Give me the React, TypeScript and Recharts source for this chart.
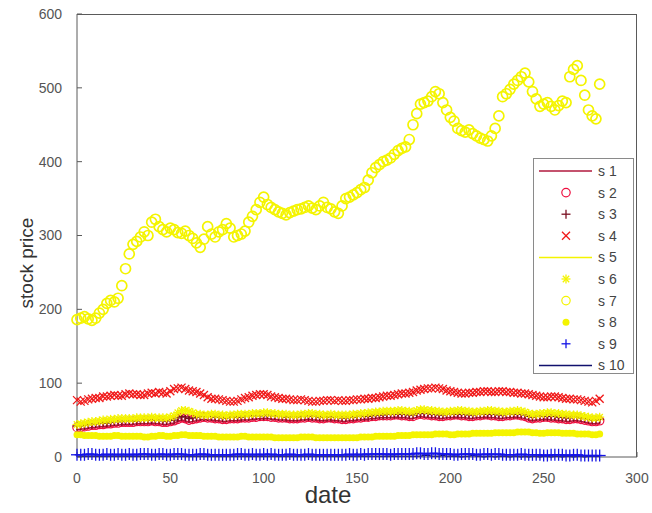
import React from 'react'
import { LineChart, Line, XAxis, YAxis, Legend, CartesianGrid } from 'recharts'

// trading days, sampled every 2nd day
const dates = [
  0, 2, 4, 6, 8, 10, 12, 14, 16, 18,
  20, 22, 24, 26, 28, 30, 32, 34, 36, 38,
  40, 42, 44, 46, 48, 50, 52, 54, 56, 58,
  60, 62, 64, 66, 68, 70, 72, 74, 76, 78,
  80, 82, 84, 86, 88, 90, 92, 94, 96, 98,
  100, 102, 104, 106, 108, 110, 112, 114, 116, 118,
  120, 122, 124, 126, 128, 130, 132, 134, 136, 138,
  140, 142, 144, 146, 148, 150, 152, 154, 156, 158,
  160, 162, 164, 166, 168, 170, 172, 174, 176, 178,
  180, 182, 184, 186, 188, 190, 192, 194, 196, 198,
  200, 202, 204, 206, 208, 210, 212, 214, 216, 218,
  220, 222, 224, 226, 228, 230, 232, 234, 236, 238,
  240, 242, 244, 246, 248, 250, 252, 254, 256, 258,
  260, 262, 264, 266, 268, 270, 272, 274, 276, 278,
  280,
]

const s1 = [
  37, 38, 38, 39, 40, 40, 41, 41, 42, 42,
  43, 43, 44, 44, 44, 44, 45, 45, 45, 45,
  46, 45, 45, 44, 44, 45, 46, 48, 50, 49,
  47, 48, 49, 50, 51, 50, 50, 49, 49, 48,
  48, 49, 49, 49, 50, 50, 50, 51, 51, 52,
  52, 52, 51, 51, 50, 50, 50, 49, 49, 49,
  50, 50, 51, 50, 50, 49, 49, 50, 50, 49,
  49, 48, 48, 49, 49, 50, 50, 51, 51, 52,
  52, 53, 53, 53, 53, 54, 54, 53, 53, 52,
  52, 54, 55, 54, 54, 53, 53, 52, 52, 53,
  53, 54, 54, 53, 53, 52, 52, 53, 53, 54,
  54, 53, 53, 52, 52, 53, 53, 54, 54, 53,
  52, 50, 49, 50, 50, 51, 51, 50, 50, 49,
  49, 48, 48, 49, 49, 48, 47, 46, 45, 45,
  46,
]
const s2 = [
  40, 40, 41, 42, 43, 43, 44, 44, 45, 45,
  46, 46, 47, 47, 47, 47, 48, 48, 48, 48,
  49, 48, 48, 47, 47, 48, 49, 51, 53, 52,
  50, 51, 52, 53, 54, 53, 53, 52, 52, 51,
  51, 52, 52, 52, 53, 53, 53, 54, 54, 55,
  55, 55, 54, 54, 53, 53, 53, 52, 52, 52,
  53, 53, 54, 53, 53, 52, 52, 53, 53, 52,
  52, 51, 51, 52, 52, 53, 53, 54, 54, 55,
  55, 56, 56, 56, 56, 57, 57, 56, 56, 55,
  55, 57, 58, 57, 57, 56, 56, 55, 55, 56,
  56, 57, 57, 56, 56, 55, 55, 56, 56, 57,
  57, 56, 56, 55, 55, 56, 56, 57, 57, 56,
  55, 53, 52, 53, 53, 54, 54, 53, 53, 52,
  52, 51, 51, 52, 52, 51, 50, 49, 48, 48,
  49,
]
const s3 = [
  42, 42, 43, 44, 44, 45, 46, 46, 46, 47,
  48, 48, 48, 49, 49, 49, 49, 50, 50, 50,
  50, 50, 50, 49, 49, 50, 50, 53, 55, 54,
  52, 53, 54, 55, 55, 55, 55, 54, 54, 53,
  53, 54, 54, 54, 54, 55, 55, 56, 56, 56,
  56, 57, 56, 56, 55, 55, 54, 54, 54, 54,
  55, 55, 55, 55, 55, 54, 54, 54, 54, 54,
  54, 53, 53, 54, 54, 55, 55, 55, 55, 56,
  57, 57, 57, 58, 58, 58, 58, 58, 58, 57,
  57, 59, 59, 59, 59, 58, 58, 57, 57, 58,
  58, 58, 58, 58, 58, 57, 57, 58, 58, 58,
  58, 58, 58, 57, 57, 58, 58, 58, 58, 58,
  57, 55, 54, 55, 55, 55, 55, 55, 55, 54,
  54, 53, 53, 54, 54, 53, 52, 51, 50, 50,
  51,
]
const s4 = [
  77, 75, 76, 78, 79, 80, 80, 82, 82, 83,
  84, 83, 83, 85, 86, 85, 85, 84, 84, 86,
  87, 86, 88, 87, 86, 89, 92, 93, 94, 92,
  90, 89, 88, 86, 84, 81, 79, 79, 78, 77,
  76, 75, 75, 76, 78, 80, 81, 83, 84, 85,
  85, 84, 82, 81, 80, 79, 79, 78, 77, 77,
  78, 77, 76, 75, 75, 76, 76, 77, 77, 76,
  77, 76, 76, 77, 77, 78, 78, 79, 79, 80,
  80, 81, 82, 83, 83, 84, 85, 86, 86, 87,
  88, 90, 91, 92, 93, 93, 94, 93, 92, 90,
  89, 88, 87, 86, 86, 87, 87, 88, 88, 89,
  89, 88, 88, 89, 89, 88, 88, 87, 87, 86,
  86, 85, 84, 83, 82, 81, 81, 82, 82, 81,
  80, 79, 79, 78, 78, 77, 76, 75, 74, 76,
  79,
]
const s5 = [
  28, 28, 27, 27, 27, 27, 26, 26, 26, 26,
  27, 27, 27, 27, 26, 26, 26, 26, 26, 26,
  27, 27, 27, 26, 26, 26, 27, 27, 28, 28,
  27, 27, 26, 26, 26, 26, 26, 26, 26, 25,
  25, 25, 25, 25, 26, 26, 26, 26, 25, 25,
  25, 25, 25, 24, 24, 24, 24, 24, 24, 24,
  25, 25, 25, 25, 25, 25, 24, 24, 24, 24,
  24, 24, 24, 24, 25, 25, 25, 25, 25, 25,
  26, 26, 26, 26, 26, 26, 27, 27, 27, 27,
  28, 28, 28, 28, 28, 28, 29, 29, 29, 29,
  28, 28, 29, 29, 29, 29, 30, 30, 30, 30,
  30, 30, 31, 31, 31, 31, 31, 31, 32, 32,
  32, 32, 31, 31, 30, 30, 31, 31, 31, 31,
  30, 30, 30, 30, 29, 29, 29, 29, 28, 28,
  29,
]
const s6 = [
  44, 45, 46, 47, 48, 48, 49, 50, 50, 51,
  51, 52, 52, 52, 52, 52, 53, 53, 53, 53,
  54, 53, 53, 53, 53, 54, 56, 60, 63, 63,
  62, 60, 58, 58, 57, 57, 58, 58, 57, 57,
  56, 57, 57, 58, 58, 58, 58, 59, 59, 59,
  60, 60, 59, 59, 58, 58, 58, 57, 57, 57,
  58, 58, 59, 59, 58, 58, 57, 57, 58, 57,
  57, 57, 57, 57, 58, 58, 59, 59, 60, 60,
  61, 61, 62, 62, 62, 62, 63, 63, 62, 62,
  61, 63, 64, 64, 63, 63, 62, 62, 61, 61,
  62, 62, 63, 63, 62, 62, 61, 61, 62, 62,
  63, 63, 62, 62, 61, 61, 62, 62, 63, 62,
  61, 59, 58, 58, 59, 59, 60, 60, 59, 59,
  58, 58, 57, 57, 57, 56, 55, 54, 53, 53,
  54,
]
const s7 = [
  186, 188, 190, 187, 185, 188, 195, 200, 208, 212,
  210, 215, 232, 255, 275, 288, 292, 298, 305, 300,
  318, 322, 312, 308, 305, 310, 308, 304, 303, 306,
  300, 296, 290, 284, 295, 312, 302, 298, 305, 308,
  316, 310, 298, 300, 302, 306, 318, 326, 335, 345,
  352, 342, 338, 335, 332, 330, 328, 331, 333, 335,
  336, 338, 340, 337, 335, 340, 345, 338, 336, 332,
  330, 340, 350, 352, 355, 358, 362, 365, 375, 385,
  392, 396, 400, 402, 405, 410, 415, 418, 420, 430,
  450, 465, 478, 480, 482, 488, 495, 492, 480, 470,
  460, 455, 445, 442, 440, 443, 438, 435, 432, 430,
  428, 435, 445, 462, 488, 492, 498, 505, 510, 515,
  520, 508, 495, 485, 475, 478, 480, 475, 470, 476,
  482, 480, 515, 525, 530, 510, 490, 470, 462, 458,
  505,
]
const s8 = [
  30, 30, 29, 29, 29, 29, 28, 28, 28, 28,
  29, 29, 28, 28, 28, 28, 28, 28, 27, 27,
  28, 28, 29, 29, 28, 28, 29, 29, 30, 30,
  29, 29, 29, 29, 28, 28, 28, 28, 27, 27,
  27, 27, 27, 27, 28, 28, 27, 27, 27, 27,
  27, 27, 27, 26, 26, 26, 26, 26, 26, 26,
  27, 27, 27, 27, 26, 26, 26, 26, 26, 26,
  26, 26, 26, 26, 26, 26, 27, 27, 27, 27,
  28, 28, 28, 28, 28, 28, 29, 29, 29, 29,
  30, 30, 30, 30, 30, 30, 31, 31, 31, 31,
  30, 30, 31, 31, 31, 31, 32, 32, 32, 32,
  32, 32, 33, 33, 33, 33, 33, 33, 34, 34,
  34, 34, 33, 33, 32, 32, 33, 33, 33, 33,
  32, 32, 32, 32, 31, 31, 31, 31, 30, 30,
  31,
]
const s9 = [
  3, 3, 3, 4, 4, 3, 3, 3, 4, 3,
  3, 4, 3, 3, 4, 3, 3, 4, 4, 4,
  3, 3, 4, 4, 3, 3, 4, 4, 4, 3,
  3, 3, 3, 4, 4, 3, 3, 3, 3, 3,
  3, 3, 3, 4, 4, 3, 3, 4, 3, 3,
  4, 3, 4, 3, 3, 3, 3, 4, 3, 3,
  3, 3, 4, 3, 3, 3, 3, 3, 3, 3,
  3, 3, 3, 4, 3, 3, 4, 3, 4, 4,
  4, 4, 4, 4, 3, 4, 4, 4, 4, 4,
  4, 5, 5, 4, 4, 5, 5, 4, 4, 4,
  4, 3, 3, 4, 4, 4, 4, 3, 3, 4,
  4, 3, 4, 4, 3, 3, 3, 3, 3, 4,
  3, 3, 3, 3, 3, 2, 2, 3, 3, 3,
  3, 2, 2, 3, 3, 2, 2, 2, 2, 2,
  2,
]
const s10 = [
  1, 1, 1, 1, 1, 1, 1, 1, 1, 1,
  1, 1, 1, 1, 1, 1, 1, 1, 1, 1,
  1, 1, 1, 1, 1, 1, 1, 1, 1, 1,
  1, 1, 1, 1, 1, 1, 1, 1, 1, 1,
  1, 1, 1, 1, 1, 1, 1, 1, 1, 1,
  1, 1, 1, 1, 1, 1, 1, 1, 1, 1,
  1, 1, 1, 1, 1, 1, 1, 1, 1, 1,
  1, 1, 1, 1, 1, 1, 1, 1, 1, 1,
  1, 1, 1, 1, 1, 1, 1, 1, 1, 1,
  1, 1, 1, 2, 2, 1, 1, 1, 2, 1,
  1, 1, 1, 0, 1, 1, 2, 1, 1, 0,
  1, 1, 0, 1, 1, 1, 0, 1, 1, 0,
  1, 0, 1, 1, 0, 1, 1, 0, 1, 1,
  0, 1, 1, 0, 1, 1, 0, 1, 1, 1,
  1,
]

const xTicks = [0, 50, 100, 150, 200, 250, 300]
const yTicks = [0, 100, 200, 300, 400, 500, 600]
const X_MAX = 300
const Y_MAX = 600

type Shape = 'line' | 'o' | '+' | 'x' | '*' | '.'

const SERIES: { key: string; label: string; color: string; shape: Shape; values: number[] }[] = [
  { key: 's1', label: 's 1', color: '#b0183c', shape: 'line', values: s1 },
  { key: 's2', label: 's 2', color: '#ee1040', shape: 'o', values: s2 },
  { key: 's3', label: 's 3', color: '#7a1022', shape: '+', values: s3 },
  { key: 's4', label: 's 4', color: '#f01818', shape: 'x', values: s4 },
  { key: 's5', label: 's 5', color: '#f4f400', shape: 'line', values: s5 },
  { key: 's6', label: 's 6', color: '#f4f400', shape: '*', values: s6 },
  { key: 's7', label: 's 7', color: '#f4f400', shape: 'o', values: s7 },
  { key: 's8', label: 's 8', color: '#f4f400', shape: '.', values: s8 },
  { key: 's9', label: 's 9', color: '#1414e6', shape: '+', values: s9 },
  { key: 's10', label: 's 10', color: '#10106e', shape: 'line', values: s10 },
]

const rows = dates.map((date, i) => {
  const row: Record<string, number> = { date }
  SERIES.forEach(s => { row[s.key] = s.values[i] })
  return row
})

const FONT = '"Liberation Sans", Arial, sans-serif'
const AXIS = '#5a5a5a'

const W = 652
const H = 513
const M = { top: 14, right: 15, bottom: 0, left: 0 }
const Y_AXIS_W = 77
const X_AXIS_H = 56

function Marker({ shape, cx, cy, color, big }: { shape: Shape; cx: number; cy: number; color: string; big?: boolean }) {
  if (cx == null || cy == null) return null
  const w = 1.3
  switch (shape) {
    case 'o':
      return <circle cx={cx} cy={cy} r={big ? 5 : 4.2} fill="none" stroke={color} strokeWidth={big ? 1.7 : 1.2} />
    case '+': {
      const h = big ? 6 : 4.5
      return (
        <g stroke={color} strokeWidth={w}>
          <line x1={cx - h} y1={cy} x2={cx + h} y2={cy} />
          <line x1={cx} y1={cy - h} x2={cx} y2={cy + h} />
        </g>
      )
    }
    case 'x': {
      const h = 4
      return (
        <g stroke={color} strokeWidth={w}>
          <line x1={cx - h} y1={cy - h} x2={cx + h} y2={cy + h} />
          <line x1={cx - h} y1={cy + h} x2={cx + h} y2={cy - h} />
        </g>
      )
    }
    case '*': {
      const h = 4.5
      const d = 3.2
      return (
        <g stroke={color} strokeWidth={w}>
          <line x1={cx - h} y1={cy} x2={cx + h} y2={cy} />
          <line x1={cx} y1={cy - h} x2={cx} y2={cy + h} />
          <line x1={cx - d} y1={cy - d} x2={cx + d} y2={cy + d} />
          <line x1={cx - d} y1={cy + d} x2={cx + d} y2={cy - d} />
        </g>
      )
    }
    case '.':
      return <circle cx={cx} cy={cy} r={3.5} fill={color} stroke="none" />
    default:
      return null
  }
}

function LegendBox() {
  const rowH = 21.6
  return (
    <svg width={101} height={216} style={{ display: 'block' }}>
      <rect x={0.5} y={0.5} width={100} height={215} fill="#fff" stroke="#8a8a8a" />
      {SERIES.map((s, i) => {
        const y = 13 + i * rowH
        return (
          <g key={s.key}>
            {s.shape === 'line'
              ? <line x1={6} x2={59} y1={y} y2={y} stroke={s.color} strokeWidth={1.5} />
              : <Marker shape={s.shape} cx={33} cy={y} color={s.color} />}
            <text x={65} y={y} dy="0.35em" fontSize={14} fill="#444" fontFamily={FONT}>{s.label}</text>
          </g>
        )
      })}
    </svg>
  )
}

export default function App() {
  const tickStyle = { fontSize: 14, fill: '#555', fontFamily: FONT }
  return (
    <div style={{ position: 'absolute', left: 0, top: 0, width: W, height: H, background: '#fff' }}>
      <LineChart width={W} height={H} data={rows} margin={M}>
        {/* MATLAB "box on": only the top and right edges of the plot area */}
        <CartesianGrid
          stroke={AXIS}
          strokeWidth={1}
          horizontalCoordinatesGenerator={({ offset }: any) => [offset.top + 0.5]}
          verticalCoordinatesGenerator={({ offset }: any) => [offset.left + offset.width - 0.5]}
        />
        <XAxis
          dataKey="date"
          type="number"
          domain={[0, X_MAX]}
          ticks={xTicks}
          height={X_AXIS_H}
          stroke={AXIS}
          tickSize={-5}
          tickMargin={21}
          tick={tickStyle}
          label={{
            content: () => (
              <text x={328} y={503} textAnchor="middle" fontSize={24} fill="#333" fontFamily={FONT}>date</text>
            ),
          }}
        />
        <YAxis
          type="number"
          domain={[0, Y_MAX]}
          ticks={yTicks}
          width={Y_AXIS_W}
          stroke={AXIS}
          tickSize={-5}
          tickMargin={20}
          tick={tickStyle}
          label={{
            content: () => (
              <text x={26} y={263} transform="rotate(-90 26 263)" textAnchor="middle" dominantBaseline="central" fontSize={19} fill="#333" fontFamily={FONT}>stock price</text>
            ),
          }}
        />
        {SERIES.map(s => (
          <Line
            key={s.key}
            dataKey={s.key}
            isAnimationActive={false}
            stroke={s.shape === 'line' ? s.color : 'none'}
            strokeWidth={s.key === 's5' ? 2.5 : 1.5}
            activeDot={false}
            dot={s.shape === 'line' ? false : (p: any) => (
              <Marker key={`${s.key}-${p.index}`} shape={s.shape} cx={p.cx} cy={p.cy} color={s.color} big={s.key === 's7' || s.key === 's9'} />
            )}
          />
        ))}
        <Legend
          layout="horizontal"
          verticalAlign="middle"
          align="center"
          wrapperStyle={{ left: 533, top: 158, width: 101, height: 216 }}
          content={() => <LegendBox />}
        />
      </LineChart>
    </div>
  )
}
